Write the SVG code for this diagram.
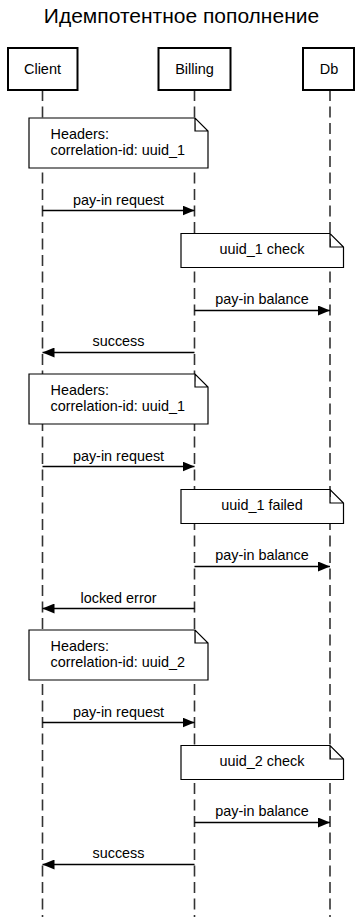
<svg xmlns="http://www.w3.org/2000/svg" width="363" height="917" viewBox="0 0 363 917">
  <style>
    text { font-family: "Liberation Sans", Arial, sans-serif; fill: #000; }
    .title { font-size: 21px; text-anchor: middle; }
    .actor rect { fill: #fff; stroke: #000; stroke-width: 2; }
    .actor text { font-size: 14.5px; text-anchor: middle; }
    .life { stroke: #333; stroke-width: 1.6; stroke-dasharray: 11 5.5; fill: none; }
    .note path { fill: #fff; stroke: #000; stroke-width: 1.2; }
    .note text { font-size: 14.4px; }
    .note text.c { text-anchor: middle; }
    .msg line { stroke: #000; stroke-width: 1.5; }
    .msg text { font-size: 14.4px; text-anchor: middle; }
  </style>
  <defs>
    <marker id="arrow" viewBox="0 0 12 10" refX="12" refY="5" markerWidth="12" markerHeight="10" markerUnits="userSpaceOnUse" orient="auto">
      <path d="M0,0 L12,5 L0,10 Z" fill="#000"/>
    </marker>
  </defs>

  <rect width="363" height="917" fill="#fff"/>

  <text class="title" x="181.5" y="23">Идемпотентное пополнение</text>

  <!-- lifelines -->
  <g id="lifelines">
    <line class="life" x1="42.5" y1="90" x2="42.5" y2="917"/>
    <line class="life" x1="194.5" y1="90" x2="194.5" y2="917"/>
    <line class="life" x1="330" y1="90" x2="330" y2="917"/>
  </g>

  <!-- participants -->
  <g id="client" class="actor">
    <rect x="8" y="48" width="69.5" height="42"/>
    <text x="42.5" y="74">Client</text>
  </g>
  <g id="billing" class="actor">
    <rect x="158.5" y="48" width="72" height="42"/>
    <text x="194.5" y="74">Billing</text>
  </g>
  <g id="db" class="actor">
    <rect x="303" y="48" width="51" height="42"/>
    <text x="329" y="74">Db</text>
  </g>

  <!-- notes -->
  <g id="note-headers-1" class="note">
    <path d="M29,118 H195 L208,131 V168 H29 Z M195,118 V131 H208"/>
    <text x="50.5" y="139">Headers:</text>
    <text x="50.5" y="155">correlation-id: uuid_1</text>
  </g>
  <g id="note-check-1" class="note">
    <path d="M181,233.5 H330 L343.5,247 V267.5 H181 Z M330,233.5 V247 H343.5"/>
    <text class="c" x="262" y="254">uuid_1 check</text>
  </g>
  <g id="note-headers-2" class="note">
    <path d="M29,374 H195 L208,387 V424 H29 Z M195,374 V387 H208"/>
    <text x="50.5" y="395">Headers:</text>
    <text x="50.5" y="411">correlation-id: uuid_1</text>
  </g>
  <g id="note-failed" class="note">
    <path d="M181,489.5 H330 L343.5,503 V523.5 H181 Z M330,489.5 V503 H343.5"/>
    <text class="c" x="262" y="510">uuid_1 failed</text>
  </g>
  <g id="note-headers-3" class="note">
    <path d="M29,630 H195 L208,643 V680 H29 Z M195,630 V643 H208"/>
    <text x="50.5" y="651">Headers:</text>
    <text x="50.5" y="667">correlation-id: uuid_2</text>
  </g>
  <g id="note-check-2" class="note">
    <path d="M181,745.5 H330 L343.5,759 V779.5 H181 Z M330,745.5 V759 H343.5"/>
    <text class="c" x="262" y="766">uuid_2 check</text>
  </g>

  <!-- messages -->
  <g id="connectors" class="msg">
    <line x1="42.5" y1="210.5" x2="194.5" y2="210.5" marker-end="url(#arrow)"/>
    <text x="118.5" y="205">pay-in request</text>
    <line x1="194.5" y1="310.5" x2="330" y2="310.5" marker-end="url(#arrow)"/>
    <text x="262" y="304">pay-in balance</text>
    <line x1="194.5" y1="352.5" x2="42.5" y2="352.5" marker-end="url(#arrow)"/>
    <text x="118.5" y="346">success</text>

    <line x1="42.5" y1="466.5" x2="194.5" y2="466.5" marker-end="url(#arrow)"/>
    <text x="118.5" y="461">pay-in request</text>
    <line x1="194.5" y1="566.5" x2="330" y2="566.5" marker-end="url(#arrow)"/>
    <text x="262" y="560">pay-in balance</text>
    <line x1="194.5" y1="608.5" x2="42.5" y2="608.5" marker-end="url(#arrow)"/>
    <text x="118.5" y="603">locked error</text>

    <line x1="42.5" y1="722.5" x2="194.5" y2="722.5" marker-end="url(#arrow)"/>
    <text x="118.5" y="717">pay-in request</text>
    <line x1="194.5" y1="822.5" x2="330" y2="822.5" marker-end="url(#arrow)"/>
    <text x="262" y="816">pay-in balance</text>
    <line x1="194.5" y1="864.5" x2="42.5" y2="864.5" marker-end="url(#arrow)"/>
    <text x="118.5" y="858">success</text>
  </g>
</svg>
